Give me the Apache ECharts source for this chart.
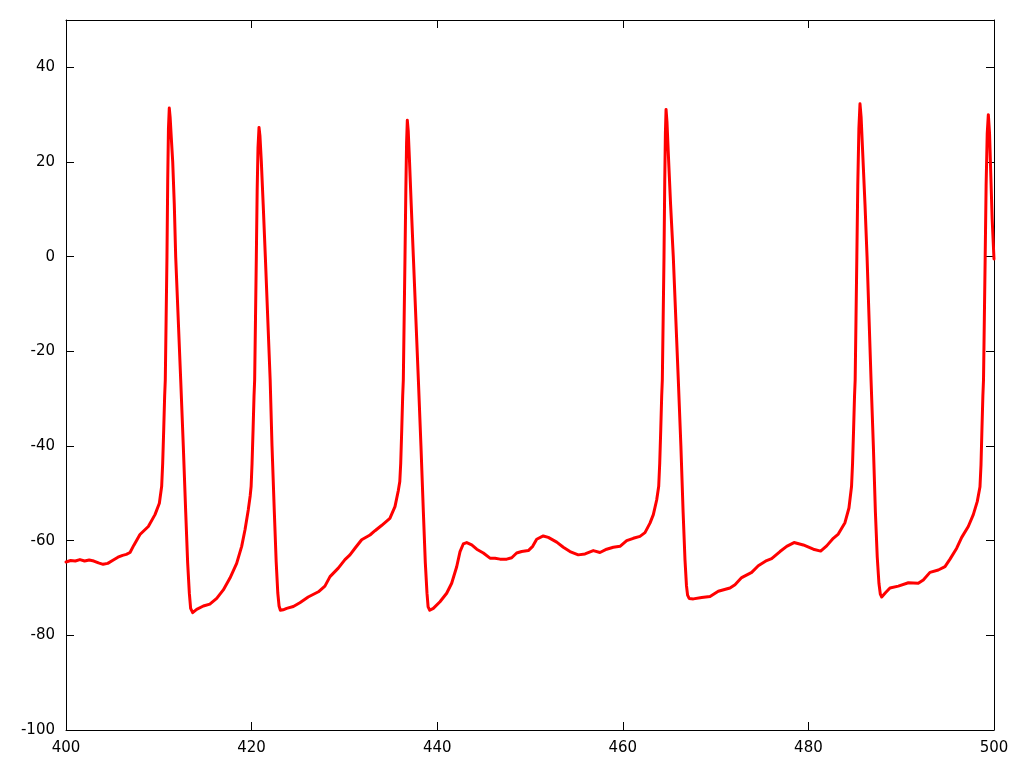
<!DOCTYPE html>
<html>
<head>
<meta charset="utf-8">
<script src="https://cdn.jsdelivr.net/npm/echarts@6/dist/echarts.min.js"></script>
<style>
  html, body { margin: 0; padding: 0; background: #ffffff; }
  #chart { width: 1024px; height: 768px; }
</style>
</head>
<body>
<div id="chart"></div>
<script>
// Time (ms) and membrane potential (mV)
const timeMs = [
  400.0, 400.5, 401.0, 401.5, 402.0, 402.5, 403.0, 403.5, 404.0, 404.5,
  405.1, 405.6, 406.1, 406.5, 406.9, 407.3, 407.97, 408.87, 409.59, 410.06,
  410.31, 410.42, 410.53, 410.63, 410.7, 410.79, 410.88, 410.96, 411.04, 411.13,
  411.22, 411.35, 411.5, 411.67, 411.82, 412.36, 412.64, 412.9, 413.11, 413.29,
  413.43, 413.65, 414.08, 414.8, 415.5, 416.24, 416.95, 417.67, 418.39, 418.93,
  419.29, 419.64, 419.85, 419.95, 420.05, 420.16, 420.26, 420.33, 420.42, 420.51,
  420.6, 420.69, 420.8, 420.9, 421.05, 421.25, 421.48, 422.0, 422.2, 422.45,
  422.65, 422.82, 422.96, 423.1, 423.4, 423.78, 424.5, 425.2, 426.1, 427.2,
  427.9, 428.45, 429.34, 430.06, 430.6, 431.14, 431.86, 432.76, 433.3, 434.0,
  434.9, 435.45, 435.8, 435.97, 436.07, 436.18, 436.28, 436.35, 436.44, 436.53,
  436.62, 436.7, 436.78, 436.88, 437.02, 437.2, 437.43, 437.97, 438.25, 438.51,
  438.72, 438.9, 439.02, 439.2, 439.58, 440.3, 441.02, 441.56, 442.1, 442.46,
  442.81, 443.18, 443.72, 444.26, 444.97, 445.69, 446.23, 446.77, 447.49, 448.03,
  448.56, 449.1, 449.82, 450.29, 450.72, 451.43, 451.97, 452.88, 453.59, 454.31,
  455.2, 455.93, 456.82, 457.54, 458.26, 458.98, 459.7, 460.42, 461.13, 461.85,
  462.39, 462.93, 463.29, 463.65, 463.87, 463.98, 464.09, 464.19, 464.26, 464.35,
  464.44, 464.52, 464.59, 464.66, 464.76, 464.9, 465.15, 465.44, 465.98, 466.26,
  466.5, 466.7, 466.86, 466.98, 467.15, 467.6, 468.5, 469.4, 470.29, 471.55,
  472.09, 472.81, 473.89, 474.6, 475.5, 476.04, 476.94, 477.66, 478.45, 479.45,
  480.53, 481.32, 481.97, 482.68, 483.22, 483.94, 484.37, 484.65, 484.76, 484.87,
  484.97, 485.04, 485.13, 485.22, 485.32, 485.44, 485.56, 485.68, 485.85, 486.1,
  486.32, 486.75, 487.0, 487.22, 487.42, 487.6, 487.75, 487.9, 488.3, 488.79,
  489.69, 490.77, 491.84, 492.38, 493.1, 494.0, 494.72, 495.26, 495.98, 496.52,
  497.23, 497.77, 498.2, 498.49, 498.6, 498.7, 498.8, 498.87, 498.96, 499.05,
  499.15, 499.27, 499.39, 499.52, 499.66, 499.8, 500.0
];
const voltageMv = [
  -64.5, -64.2, -64.3, -64.0, -64.3, -64.1, -64.3, -64.7, -65.0, -64.8,
  -64.1, -63.5, -63.1, -62.9, -62.5, -61.0, -58.7, -57.0, -54.5, -52.1,
  -48.5, -43.6, -36.5, -29.5, -26, -13, 0, 16, 27, 31.4,
  29.5, 25, 20, 11, 0, -26, -40, -54, -64.7, -71.1,
  -74.3, -75.2, -74.5, -73.8, -73.4, -72.2, -70.4, -67.9, -64.8, -61.2,
  -57.7, -53.5, -50.5, -48.5, -43.6, -36.5, -29.5, -26, -13, 0,
  14, 23, 27.3, 25.5, 20, 11, 0, -26, -40, -54,
  -64.5, -71, -73.8, -74.7, -74.6, -74.3, -73.9, -73.1, -71.9, -70.8,
  -69.6, -67.6, -65.8, -64.0, -63.0, -61.6, -59.8, -58.8, -57.9, -56.8,
  -55.3, -52.8, -49.5, -47.5, -43.6, -36.5, -29.5, -26, -13, 0,
  14, 24, 28.8, 26.5, 20, 11, 0, -26, -40, -54,
  -64.7, -71.1, -74.0, -74.7, -74.3, -72.9, -71.1, -69.0, -65.5, -62.3,
  -60.7, -60.4, -60.9, -61.8, -62.6, -63.7, -63.7, -63.9, -63.9, -63.6,
  -62.6, -62.3, -62.1, -61.2, -59.7, -59.0, -59.3, -60.3, -61.4, -62.3,
  -63.0, -62.8, -62.1, -62.5, -61.8, -61.4, -61.2, -60.0, -59.5, -59.1,
  -58.3, -56.3, -54.5, -51.4, -48.5, -43.6, -36.5, -29.5, -26, -13,
  0, 16, 26, 31.1, 28.5, 22, 11, 0, -26, -40,
  -54, -64, -69.5, -71.5, -72.2, -72.3, -72.0, -71.8, -70.7, -70.0,
  -69.3, -67.8, -66.7, -65.3, -64.2, -63.8, -62.3, -61.2, -60.4, -60.9,
  -61.8, -62.2, -61.1, -59.5, -58.6, -56.2, -53.1, -48.5, -43.6, -36.5,
  -29.5, -26, -13, 0, 15, 27, 32.3, 29.5, 22, 11,
  0, -26, -40, -54, -63.5, -69, -71.3, -71.9, -71.0, -70.0,
  -69.6, -68.9, -69.0, -68.3, -66.7, -66.2, -65.5, -63.9, -61.6, -59.3,
  -57.0, -54.5, -51.7, -48.6, -44, -36.5, -29.5, -26, -13, 0,
  15, 26, 30, 26, 17, 8, -0.5
];
const xTicks = [400, 420, 440, 460, 480, 500];
const yTicks = [-100, -80, -60, -40, -20, 0, 20, 40];

const trace = timeMs.map((t, i) => [t, voltageMv[i]]);

const labelFont = { fontFamily: 'DejaVu Sans', fontSize: 15, color: '#000000' };
const axisLineStyle = { show: true, onZero: false, lineStyle: { color: '#000000', width: 1 } };
const tickStyle = { show: true, inside: true, length: 8, lineStyle: { color: '#000000', width: 1 } };

const chart = echarts.init(document.getElementById('chart'), null, { renderer: 'canvas' });
chart.setOption({
  animation: false,
  backgroundColor: '#ffffff',
  grid: { left: 66, right: 30, top: 20, bottom: 38, containLabel: false },
  xAxis: [
    {
      type: 'value', position: 'bottom',
      min: xTicks[0], max: xTicks[xTicks.length - 1], interval: 20,
      axisLine: axisLineStyle, axisTick: tickStyle,
      splitLine: { show: false },
      axisLabel: Object.assign({ margin: 11 }, labelFont)
    },
    {
      type: 'value', position: 'top',
      min: xTicks[0], max: xTicks[xTicks.length - 1], interval: 20,
      axisLine: axisLineStyle, axisTick: tickStyle,
      splitLine: { show: false }, axisLabel: { show: false }
    }
  ],
  yAxis: [
    {
      type: 'value', position: 'left',
      min: yTicks[0], max: 50, interval: 20,
      axisLine: axisLineStyle, axisTick: tickStyle,
      splitLine: { show: false },
      axisLabel: Object.assign({
        margin: 11, showMaxLabel: false,
        formatter: v => (yTicks.indexOf(v) >= 0 ? String(v) : '')
      }, labelFont)
    },
    {
      type: 'value', position: 'right',
      min: yTicks[0], max: 50, interval: 20,
      axisLine: axisLineStyle, axisTick: tickStyle,
      splitLine: { show: false }, axisLabel: { show: false }
    }
  ],
  series: [{
    type: 'line',
    data: trace,
    xAxisIndex: 0, yAxisIndex: 0,
    showSymbol: false, symbol: 'none',
    smooth: false,
    lineStyle: { color: '#ff0000', width: 3, join: 'round', cap: 'round' },
    z: 1
  }]
});
</script>
</body>
</html>
